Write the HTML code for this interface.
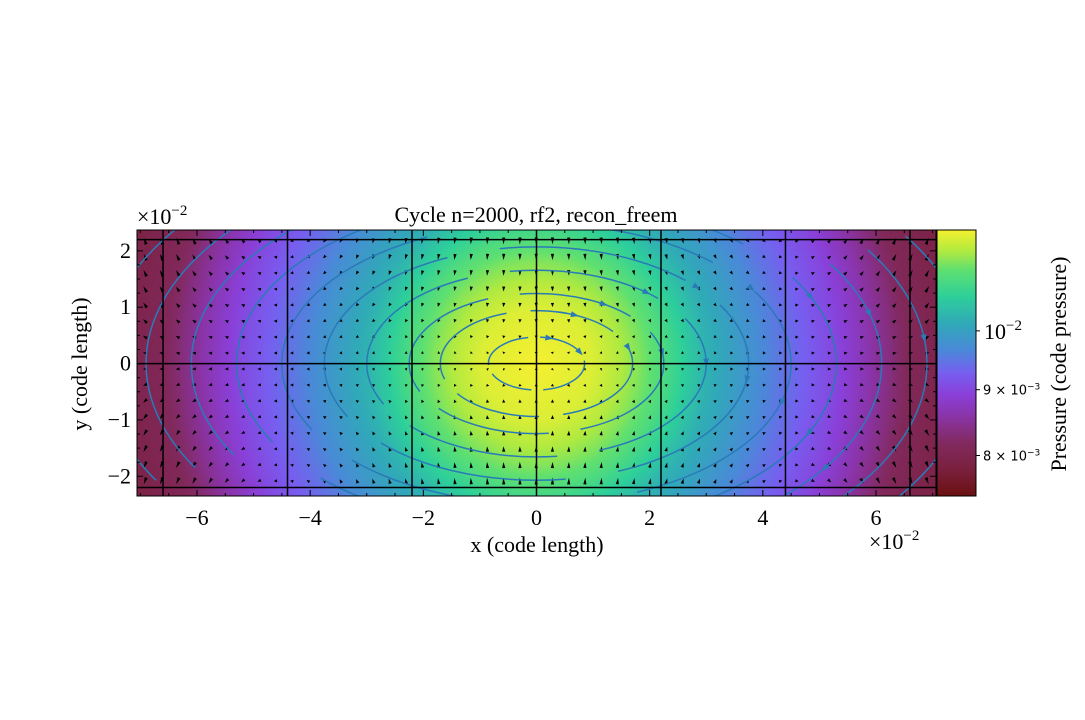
<!DOCTYPE html>
<html><head><meta charset="utf-8">
<style>
body{margin:0;background:#fff;width:1085px;height:720px;overflow:hidden;position:relative;font-family:"Liberation Serif",serif}
canvas{position:absolute}
svg{position:absolute;left:0;top:0}
</style></head>
<body>
<canvas id="heat" width="799" height="266" style="left:137px;top:230px"></canvas>
<canvas id="cbar" width="39" height="266" style="left:937px;top:230px"></canvas>
<svg id="svg" width="1085" height="720"></svg>
<script>
// ---- data ----
const radii = [0, 1, 1.5, 1.8, 2.2, 3, 4.4, 5.3, 5.8, 6.6, 7.5];            // radius (x 10^-2)
const pressure = [0.01198, 0.01181, 0.01153, 0.01132, 0.0110, 0.01025, 0.00944, 0.0090, 0.00867, 0.0081, 0.00788];
const streamRadii = [0.85, 1.7, 2.25, 3.0, 3.75, 4.5, 5.3, 6.1, 6.9, 7.7];
const xTicks = [-6, -4, -2, 0, 2, 4, 6];
const yTicks = [-2, -1, 0, 1, 2];
const blockX = [-6.6, -4.4, -2.2, 0, 2.2, 4.4, 6.6];
const blockY = [-2.2, 0, 2.2];
const cbTicks = [0.01, 0.009, 0.008];
const cbLabels = ["10<tspan dy='-9' font-size='15'>−2</tspan>", "9 × 10<tspan dy='-5' font-size='9'>−3</tspan>", "8 × 10<tspan dy='-5' font-size='9'>−3</tspan>"];

// ---- scales ----
const X0=137,X1=936,Y0=230,Y1=496;
const xmin=-7.06,xmax=7.06,ymin=-2.35,ymax=2.37;
const sx=v=>X0+(v-xmin)/(xmax-xmin)*(X1-X0);
const sy=v=>Y1-(v-ymin)/(ymax-ymin)*(Y1-Y0);
const pmin=0.00744,pmax=0.01198;
const pt=p=>(Math.log10(p)-Math.log10(pmin))/(Math.log10(pmax)-Math.log10(pmin));
const stops=[[0,[106,16,16]],[0.1,[122,32,62]],[0.2,[130,42,96]],[0.3,[138,52,168]],[0.38,[138,64,216]],[0.46,[120,94,240]],[0.55,[74,138,216]],[0.65,[48,170,184]],[0.75,[46,208,154]],[0.85,[96,224,112]],[0.92,[176,234,64]],[1,[245,240,48]]];
function cmap(t){t=Math.max(0,Math.min(1,t));for(let i=1;i<stops.length;i++){if(t<=stops[i][0]){const a=stops[i-1],b=stops[i],f=(t-a[0])/(b[0]-a[0]);return a[1].map((c,k)=>Math.round(c+(b[1][k]-c)*f));}}return stops[stops.length-1][1];}
function pAt(r){for(let i=1;i<radii.length;i++){if(r<=radii[i]){const f=(r-radii[i-1])/(radii[i]-radii[i-1]);return pressure[i-1]+(pressure[i]-pressure[i-1])*f;}}return pressure[pressure.length-1];}

// heatmap
const hc=document.getElementById('heat').getContext('2d');
const img=hc.createImageData(799,266);
for(let j=0;j<266;j++)for(let i=0;i<799;i++){
 const x=xmin+(i+0.5)/799*(xmax-xmin), y=ymax-(j+0.5)/266*(ymax-ymin);
 const c=cmap(pt(pAt(Math.sqrt(x*x+y*y))));
 const o=(j*799+i)*4;img.data[o]=c[0];img.data[o+1]=c[1];img.data[o+2]=c[2];img.data[o+3]=255;}
hc.putImageData(img,0,0);
const cc=document.getElementById('cbar').getContext('2d');
for(let j=0;j<266;j++){const c=cmap(1-(j+0.5)/266);cc.fillStyle=`rgb(${c})`;cc.fillRect(0,j,39,1);}

const svg=document.getElementById('svg');const NS='http://www.w3.org/2000/svg';
function mk(tag,attrs,name,parent){const e=document.createElementNS(NS,tag);for(const k in attrs)e.setAttribute(k,attrs[k]);
 
 
 (parent||svg).appendChild(e);return e;}

// clip
const defs=mk('defs',{},'defs');const cp=mk('clipPath',{id:'clip'},'plot-clip',defs);mk('rect',{x:X0,y:Y0,width:X1-X0,height:Y1-Y0},'plot-clip-rect',cp);
const g=mk('g',{'clip-path':'url(#clip)'},'plot-layer');

// quiver
for(let px=145;px<X1;px+=16.3)for(let py=241;py<Y1;py+=16){
 const x=xmin+(px-X0)/(X1-X0)*(xmax-xmin), y=ymax-(py-Y0)/(Y1-Y0)*(ymax-ymin);
 const vx=0.45*x/7, vy=(y/2.3)*((x/4.5)*(x/4.5)-1);
 const m=Math.hypot(vx,vy);if(m<0.02){mk('circle',{cx:px,cy:py,r:0.6,fill:'#000'},'quiver-arrow',g);continue;}
 const L=Math.min(7,1.5+m*6);const ux=vx/m,uy=-vy/m;
 const tx=px+ux*L/2,ty=py+uy*L/2,bx=px-ux*L/2,by=py-uy*L/2,w=1.6;
 mk('polygon',{points:`${tx},${ty} ${bx-uy*w},${by+ux*w} ${bx+uy*w},${by-ux*w}`,fill:'#000'},'quiver-arrow',g);}

// streamlines
const cx=sx(0),cy=sy(0),ppu=(X1-X0)/(xmax-xmin);
streamRadii.forEach((r,k)=>{
 const rx=r*ppu,ry=rx*0.55;
 mk('ellipse',{cx:cx,cy:cy,rx:rx,ry:ry,fill:'none',stroke:'#2a7ab8','stroke-width':1.5,'stroke-dasharray':`${rx*1.1} ${rx*0.25} ${rx*0.9} ${rx*0.2}`,'stroke-dashoffset':k*13},'streamline',g);
 [[0.25,1],[1.1,-1]].forEach(([a,s])=>{const th=-Math.PI/2+a+k*0.15;const ax=cx+rx*Math.cos(th),ay=cy+ry*Math.sin(th);
  const dx=-rx*Math.sin(th),dy=ry*Math.cos(th),m=Math.hypot(dx,dy),ux=dx/m,uy=dy/m;
  mk('polygon',{points:`${ax+ux*5},${ay+uy*5} ${ax-ux*3-uy*3},${ay-uy*3+ux*3} ${ax-ux*3+uy*3},${ay-uy*3-ux*3}`,fill:'#2a7ab8'},'streamline-arrow',g);});
});

// block boundaries
blockX.forEach(v=>mk('line',{x1:sx(v),x2:sx(v),y1:Y0,y2:Y1,stroke:'#000','stroke-width':1.5},'block-boundary',g));
blockY.forEach(v=>mk('line',{x1:X0,x2:X1,y1:sy(v),y2:sy(v),stroke:'#000','stroke-width':1.5},'block-boundary',g));

// frame & ticks
mk('rect',{x:X0,y:Y0,width:X1-X0,height:Y1-Y0,fill:'none',stroke:'#000','stroke-width':1},'plot-frame');
for(let v=-7;v<=7;v+=0.5){const L=(v%2===0)?6:3;mk('line',{x1:sx(v),x2:sx(v),y1:Y1,y2:Y1-L,stroke:'#000'},'x-tick');mk('line',{x1:sx(v),x2:sx(v),y1:Y0,y2:Y0+L,stroke:'#000'},'x-tick');}
for(let v=-2;v<=2;v+=0.25){const L=(v%1===0)?6:3;mk('line',{x1:X0,x2:X0+L,y1:sy(v),y2:sy(v),stroke:'#000'},'y-tick');mk('line',{x1:X1,x2:X1-L,y1:sy(v),y2:sy(v),stroke:'#000'},'y-tick');}
xTicks.forEach(v=>{const t=mk('text',{x:sx(v),y:525,'text-anchor':'middle','font-size':22},'x-tick-label');t.textContent=(v<0?'−':'')+Math.abs(v);});
yTicks.forEach(v=>{const t=mk('text',{x:131,y:sy(v)+7,'text-anchor':'end','font-size':22},'y-tick-label');t.textContent=(v<0?'−':'')+Math.abs(v);});

// colorbar frame & ticks
mk('rect',{x:937,y:Y0,width:39,height:Y1-Y0,fill:'none',stroke:'#000'},'colorbar-frame');
const cy2=p=>Y1-pt(p)*(Y1-Y0);
cbTicks.forEach((p,i)=>{mk('line',{x1:976,x2:980,y1:cy2(p),y2:cy2(p),stroke:'#000'},'colorbar-tick');
 const t=mk('text',{x:i===0?984:983,y:cy2(p)+(i===0?8:5),'font-size':i===0?22:13,'font-family':i===0?'Liberation Serif,serif':'DejaVu Sans,sans-serif'},'colorbar-tick-label');t.innerHTML=cbLabels[i];});
</script>
<svg width="1085" height="720" style="position:absolute;left:0;top:0">
<text x="536" y="222" text-anchor="middle" font-size="22" font-family="Liberation Serif,serif">Cycle n=2000, rf2, recon_freem</text>
<text x="137" y="224" font-size="22" font-family="Liberation Serif,serif">×10<tspan dy="-9" font-size="15">−2</tspan></text>
<text x="869" y="549" font-size="22" font-family="Liberation Serif,serif">×10<tspan dy="-9" font-size="15">−2</tspan></text>
<text x="537" y="552" text-anchor="middle" font-size="22" font-family="Liberation Serif,serif">x  (code length)</text>
<text transform="translate(87,364) rotate(-90)" text-anchor="middle" font-size="22" font-family="Liberation Serif,serif">y  (code length)</text>
<text transform="translate(1066,364) rotate(-90)" text-anchor="middle" font-size="22" font-family="Liberation Serif,serif">Pressure  (code pressure)</text>
</svg>
</body></html>
